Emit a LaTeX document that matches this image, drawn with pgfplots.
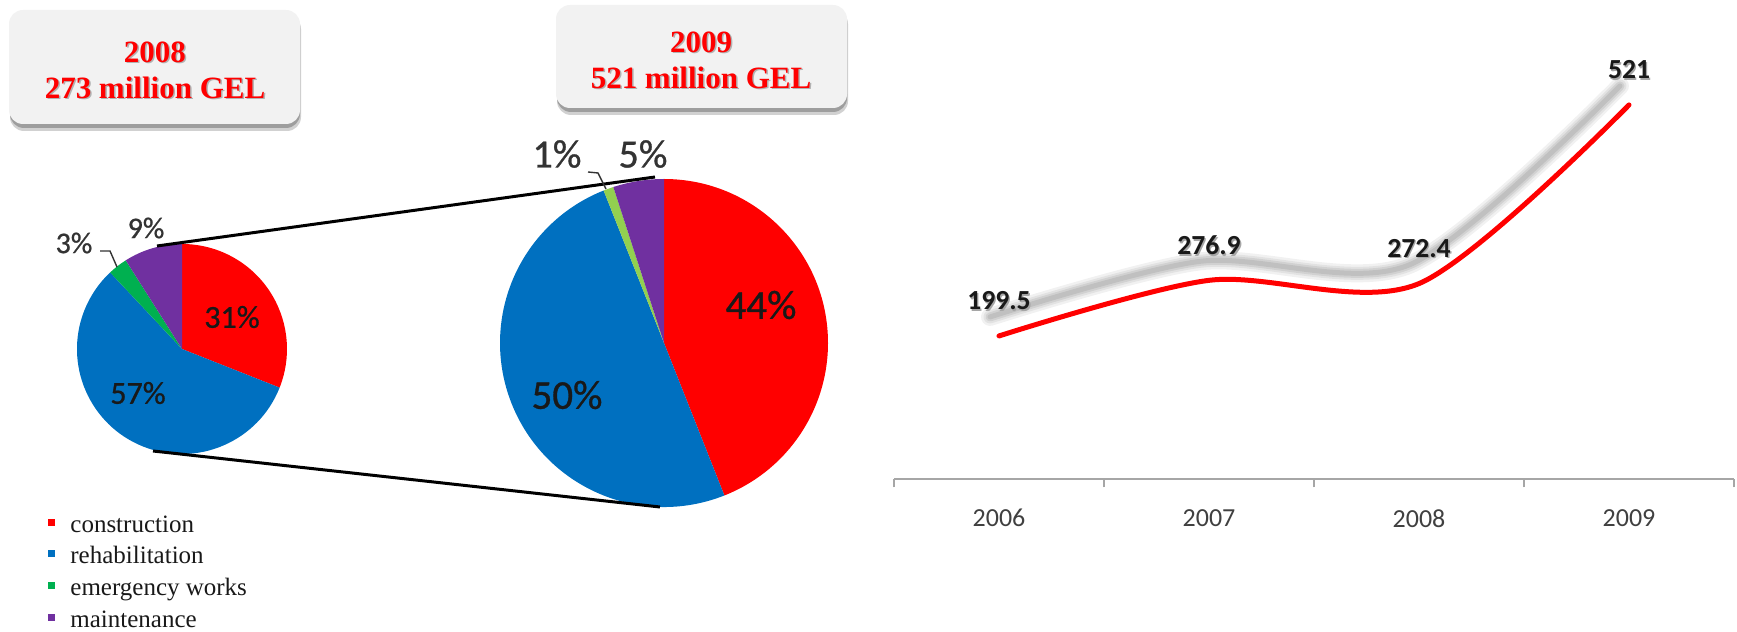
\documentclass[border=0pt]{standalone}
\usepackage{pgfplots}
\pgfplotsset{compat=1.18}
\usepackage{pgfplotstable}
\usepackage{fontspec}
\setmainfont{Liberation Serif}
\newfontfamily\carlito{Carlito}
\newfontfamily\carlitoh[FakeBold=0.8]{Carlito}
\definecolor{cred}{HTML}{FF0000}
\definecolor{cblue}{HTML}{0070C0}
\definecolor{cgreen}{HTML}{00B050}
\definecolor{clgreen}{HTML}{92D050}
\definecolor{cpurple}{HTML}{7030A0}
\definecolor{boxfill}{HTML}{F2F2F2}
\definecolor{axisgray}{HTML}{A6A6A6}
\definecolor{ticktext}{HTML}{404040}

\pgfplotstableread{
x y
0.5 199.5
1.5 276.9
2.5 272.4
3.5 521
}\linedata

% pie: centre x, centre y (axis units = px), radius (pt), list share/colour
\newcommand\drawpie[4]{%
  \xdef\curang{90}%
  \foreach \p/\col in {#4}{%
    \pgfmathsetmacro\endang{\curang-3.6*\p}%
    \edef\temp{\noexpand\fill[\col] (axis cs:#1,#2) -- ++(\curang:#3) arc[start angle=\curang, end angle=\endang, radius=#3] -- cycle;}%
    \temp
    \xdef\curang{\endang}%
  }%
}

\begin{document}
\begin{tikzpicture}
\path[use as bounding box] (0,0) rectangle (868.5pt,316pt);
\begin{axis}[at={(0,0)}, anchor=south west, width=868.5pt, height=316pt,
  scale only axis, xmin=0, xmax=1737, ymin=0, ymax=632, hide axis, clip=false]
% --- boxes
\fill[black!18, rounded corners=7pt] (axis cs:10,501) rectangle (axis cs:301,617);
\fill[black!38, rounded corners=7pt] (axis cs:10,504) rectangle (axis cs:300,618);
\fill[boxfill, rounded corners=7pt] (axis cs:9,508) rectangle (axis cs:300,622);
\fill[black!18, rounded corners=7pt] (axis cs:557,517) rectangle (axis cs:848,622);
\fill[black!38, rounded corners=7pt] (axis cs:557,520) rectangle (axis cs:847,623);
\fill[boxfill, rounded corners=7pt] (axis cs:556,524) rectangle (axis cs:847,627);
\node[font=\bfseries\fontsize{15.5pt}{18pt}\selectfont, text=black!30, align=center] at (axis cs:156.5,560.5) {2008\\273 million GEL};
\node[font=\bfseries\fontsize{15.5pt}{18pt}\selectfont, text=cred, align=center] at (axis cs:155,562) {2008\\273 million GEL};
\node[font=\bfseries\fontsize{15.5pt}{18pt}\selectfont, text=black!30, align=center] at (axis cs:702.5,570.5) {2009\\521 million GEL};
\node[font=\bfseries\fontsize{15.5pt}{18pt}\selectfont, text=cred, align=center] at (axis cs:701,572) {2009\\521 million GEL};
% --- pies
\drawpie{182}{283}{52.5pt}{31/cred,57/cblue,3/cgreen,9/cpurple}
\drawpie{664}{289}{82pt}{44/cred,50/cblue,1/clgreen,5/cpurple}
% --- connectors
\draw[black, line width=1.5pt] (axis cs:157,386) -- (axis cs:655,455);
\draw[black, line width=1.5pt] (axis cs:153,181) -- (axis cs:660,125);
% --- leader lines
\draw[black!80, line width=0.7pt] (axis cs:100,381) -- (axis cs:110,381) -- (axis cs:117,365);
\draw[black!80, line width=0.7pt] (axis cs:588,460) -- (axis cs:598,459) -- (axis cs:606,443);
% --- pie labels
\node[font=\carlitoh\fontsize{16pt}{18pt}\selectfont, text=black!90] at (axis cs:232,315) {31\%};
\node[font=\carlitoh\fontsize{16pt}{18pt}\selectfont, text=black!90] at (axis cs:138,239) {57\%};
\node[font=\carlitoh\fontsize{15pt}{18pt}\selectfont, text=black!80] at (axis cs:146,404) {9\%};
\node[font=\carlitoh\fontsize{15pt}{18pt}\selectfont, text=black!80] at (axis cs:74,389) {3\%};
\node[font=\carlitoh\fontsize{20.5pt}{24pt}\selectfont, text=black!90] at (axis cs:761,327) {44\%};
\node[font=\carlitoh\fontsize{20.5pt}{24pt}\selectfont, text=black!90] at (axis cs:567,237) {50\%};
\node[font=\carlitoh\fontsize{20pt}{24pt}\selectfont, text=black!80] at (axis cs:557,478) {1\%};
\node[font=\carlitoh\fontsize{20pt}{24pt}\selectfont, text=black!80] at (axis cs:643,478) {5\%};
% --- legend
\fill[cred] (axis cs:48,105.5) rectangle (axis cs:55,112.5);
\fill[cblue] (axis cs:48,74.5) rectangle (axis cs:55,81.5);
\fill[cgreen] (axis cs:48,42.5) rectangle (axis cs:55,49.5);
\fill[cpurple] (axis cs:48,10.5) rectangle (axis cs:55,17.5);
\node[anchor=base west, inner sep=0pt, font=\fontsize{12.5pt}{14pt}\selectfont, text=black!90] at (axis cs:70,99) {construction};
\node[anchor=base west, inner sep=0pt, font=\fontsize{12.5pt}{14pt}\selectfont, text=black!90] at (axis cs:70,68) {rehabilitation};
\node[anchor=base west, inner sep=0pt, font=\fontsize{12.5pt}{14pt}\selectfont, text=black!90] at (axis cs:70,36) {emergency works};
\node[anchor=base west, inner sep=0pt, font=\fontsize{12.5pt}{14pt}\selectfont, text=black!90] at (axis cs:70,4) {maintenance};
\end{axis}

\begin{axis}[at={(447pt,76.35pt)}, anchor=south west, width=420pt, height=197.6pt,
  scale only axis, xmin=0, xmax=4, ymin=0, ymax=550, clip=false,
  axis x line*=bottom, axis y line=none, x axis line style={-, draw=axisgray, line width=1pt},
  xtick={0.5,1.5,2.5,3.5}, xticklabels={2006,2007,2008,2009}, major tick length=0pt,
  minor xtick={0,1,2,3,4}, minor tick length=4pt, tick align=outside,
  every minor tick/.style={draw=axisgray, line width=0.8pt},
  ytick=\empty,
  xticklabel style={font=\carlito\fontsize{13pt}{15pt}\selectfont, text=ticktext, anchor=center, yshift=-19.5pt},
  lbl/.style={nodes near coords={\pgfmathprintnumber[fixed, precision=1, assume math mode=true]{\pgfplotspointmeta}},
    point meta=y, every node near coord/.append style={font=\carlito\bfseries\fontsize{13.8pt}{15pt}\selectfont, anchor=center, inner sep=0pt}},
]
\addplot[smooth, no markers, black!45, opacity=0.12, line width=9pt, line cap=round, xshift=-4.5pt, yshift=9.5pt] table {\linedata};
\addplot[smooth, no markers, black!45, opacity=0.15, line width=6.5pt, line cap=round, xshift=-4.5pt, yshift=9.5pt] table {\linedata};
\addplot[smooth, no markers, black!45, opacity=0.2, line width=4.5pt, line cap=round, xshift=-4.5pt, yshift=9.5pt] table {\linedata};
\addplot[smooth, no markers, black!45, opacity=0.25, line width=2.5pt, line cap=round, xshift=-4.5pt, yshift=9.5pt] table {\linedata};
\addplot[draw=none, no markers, lbl, every node near coord/.append style={text=black!35, xshift=0.7pt, yshift=16.8pt}] table {\linedata};
\addplot[smooth, no markers, cred, line width=2.5pt, line cap=round] table {\linedata};
\addplot[draw=none, no markers, lbl, every node near coord/.append style={text=black!90, yshift=17.5pt}] table {\linedata};
\end{axis}
\end{tikzpicture}
\end{document}
